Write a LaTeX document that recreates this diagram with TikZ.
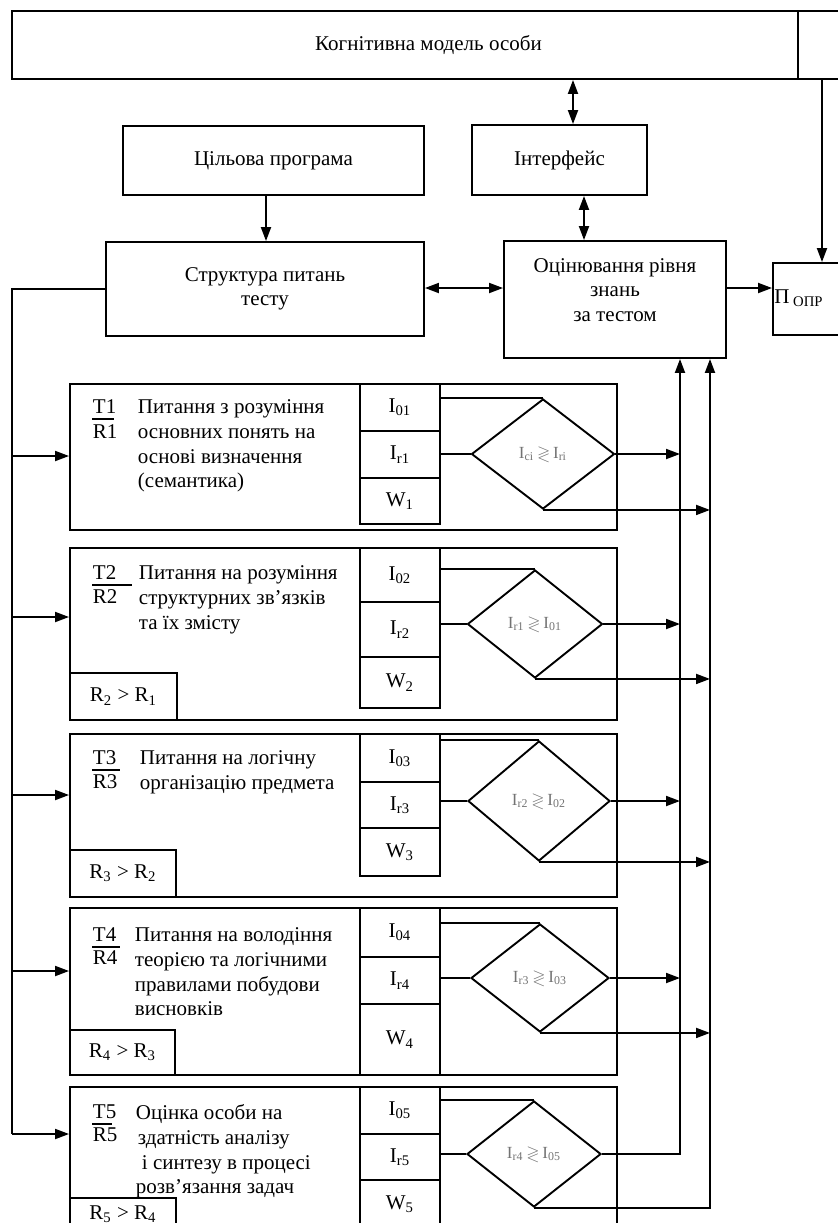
\documentclass[tikz,border=0pt]{standalone}
\usepackage{fontspec}
\setmainfont{Liberation Serif}
\usepackage{amssymb}
\usetikzlibrary{arrows.meta,shapes.geometric}
% box from corner (x1,y1) to (x2,y2), in pixel units
\newcommand\rectnode[7][]{\node[draw, align=center, minimum width={(#5-#3)*0.5pt}, minimum height={(#6-#4)*0.5pt}, #1] (#2) at ({(#3+#5)/2},{(#4+#6)/2}) {#7};}
\begin{document}
\begin{tikzpicture}[x=0.5pt,y=-0.5pt,line width=0.95pt,
  every node/.style={inner sep=0pt, font=\fontsize{10.5}{12.3}\selectfont},
  arr/.style={-{Triangle[length=7pt,width=5pt]}},
  darr/.style={{Triangle[length=7pt,width=5pt]}-{Triangle[length=7pt,width=5pt]}},
  txt/.style={anchor=north west, align=left},
  lab/.style={anchor=base west},
  dia/.style={draw, diamond, font=\fontsize{8.5}{9}\selectfont, text=black!55}]

\useasboundingbox (0,0) rectangle (837,1223);

% ---------- top part ----------
\rectnode{cog}{12}{11}{845}{79}{Когнітивна модель особи}
\rectnode{cil}{123}{126}{424}{195}{Цільова програма}
\rectnode{intf}{472}{125}{647}{195}{Інтерфейс}
\rectnode{str}{106}{242}{424}{336}{Структура питань\\тесту}
\rectnode{ocin}{504}{241}{726}{358}{}
\node[align=center] (ocint) at (615,290) {Оцінювання рівня\\знань\\за тестом};
\rectnode{popr}{773}{263}{850}{335}{}
\node (poprt) at (799,298) {П\textsubscript{ ОПР}};

\coordinate (xa) at (573,0);
\coordinate (xb) at (266,0);
\coordinate (xc) at (584,0);
\coordinate (ya) at (0,288);
\coordinate (xd) at (822,0);
\coordinate (xe) at (798,0);
\coordinate (xl) at (12,0);
\coordinate (xb1) at (680,0);
\coordinate (xb2) at (710,0);

\draw (cog.north -| xe) -- (cog.south -| xe);
\draw[darr] (cog.south -| xa) -- (intf.north -| xa);
\draw[arr] (cil.south -| xb) -- (str.north -| xb);
\draw[darr] (intf.south -| xc) -- (ocin.north -| xc);
\draw[darr] (str.east |- ya) -- (ocin.west |- ya);
\draw[arr] (ocin.east |- ya) -- (popr.west |- ya);
\draw[arr] (cog.south -| xd) -- (popr.north -| xd);

% ---------- T1 ----------
\rectnode{t1}{70}{384}{617}{530}{}
\rectnode{t1a}{360}{384}{440}{431}{I\textsubscript{01}}
\rectnode{t1b}{360}{431}{440}{478}{I\textsubscript{r1}}
\rectnode{t1c}{360}{478}{440}{524}{W\textsubscript{1}}
\node[dia, minimum width=71.5pt, minimum height=55pt] (d1) at (543,454) {I\textsubscript{ci}\,$\gtrless$\,I\textsubscript{ri}};
\node[lab] (t1T) at (92,413) {T1};
\node[lab] (t1R) at (92,438) {R1};
\draw[line width=0.6pt] (t1T.base west) ++(0,6) -- ++(22,0);
\node[txt] (t1x) at (137,399) {Питання з розуміння\\основних понять на\\основі визначення\\(семантика)};

% ---------- T2 ----------
\rectnode{t2}{70}{548}{617}{720}{}
\rectnode{t2a}{360}{548}{440}{602}{I\textsubscript{02}}
\rectnode{t2b}{360}{602}{440}{657}{I\textsubscript{r2}}
\rectnode{t2c}{360}{657}{440}{708}{W\textsubscript{2}}
\rectnode{r2}{70}{673}{177}{720}{R\textsubscript{2} > R\textsubscript{1}}
\node[dia, minimum width=67.5pt, minimum height=54pt] (d2) at (535,624) {I\textsubscript{r1}\,$\gtrless$\,I\textsubscript{01}};
\node[lab] (t2T) at (92,579) {T2};
\node[lab] (t2R) at (92,603) {R2};
\draw[line width=0.6pt] (t2T.base west) ++(0,6) -- ++(40,0);
\node[txt] (t2x) at (138,565) {Питання на розуміння\\структурних зв'язків\\та їх змісту};

% ---------- T3 ----------
\rectnode{t3}{70}{734}{617}{897}{}
\rectnode{t3a}{360}{734}{440}{782}{I\textsubscript{03}}
\rectnode{t3b}{360}{782}{440}{828}{I\textsubscript{r3}}
\rectnode{t3c}{360}{828}{440}{876}{W\textsubscript{3}}
\rectnode{r3}{70}{850}{176}{897}{R\textsubscript{3} > R\textsubscript{2}}
\node[dia, minimum width=71pt, minimum height=60pt] (d3) at (539,801) {I\textsubscript{r2}\,$\gtrless$\,I\textsubscript{02}};
\node[lab] (t3T) at (92,764) {T3};
\node[lab] (t3R) at (92,788) {R3};
\draw[line width=0.6pt] (t3T.base west) ++(0,6) -- ++(28,0);
\node[txt] (t3x) at (139,750) {Питання на логічну\\організацію предмета};

% ---------- T4 ----------
\rectnode{t4}{70}{908}{617}{1075}{}
\rectnode{t4a}{360}{908}{440}{957}{I\textsubscript{04}}
\rectnode{t4b}{360}{957}{440}{1004}{I\textsubscript{r4}}
\rectnode{t4c}{360}{1004}{440}{1075}{W\textsubscript{4}}
\rectnode{r4}{70}{1030}{175}{1075}{R\textsubscript{4} > R\textsubscript{3}}
\node[dia, minimum width=69pt, minimum height=54pt] (d4) at (540,978) {I\textsubscript{r3}\,$\gtrless$\,I\textsubscript{03}};
\node[lab] (t4T) at (92,941) {T4};
\node[lab] (t4R) at (92,964) {R4};
\draw[line width=0.6pt] (t4T.base west) ++(0,6) -- ++(28,0);
\node[txt] (t4x) at (134,927) {Питання на володіння\\теорією та логічними\\правилами побудови\\висновків};

% ---------- T5 ----------
\rectnode{t5}{70}{1087}{617}{1232}{}
\rectnode{t5a}{360}{1087}{440}{1134}{I\textsubscript{05}}
\rectnode{t5b}{360}{1134}{440}{1180}{I\textsubscript{r5}}
\rectnode{t5c}{360}{1180}{440}{1228}{W\textsubscript{5}}
\rectnode{r5}{70}{1198}{176}{1230}{R\textsubscript{5} > R\textsubscript{4}}
\node[dia, minimum width=67pt, minimum height=53pt] (d5) at (534,1154) {I\textsubscript{r4}\,$\gtrless$\,I\textsubscript{05}};
\node[lab] (t5T) at (92,1118) {T5};
\node[lab] (t5R) at (92,1141) {R5};
\draw[line width=0.6pt] (t5T.base west) ++(0,6) -- ++(20,0);
\node[txt] (t5x) at (135,1104) {Оцінка особи на\\\hspace{1pt}здатність аналізу\\\hspace{3pt}і синтезу в процесі\\розв'язання задач};

% ---------- left feed ----------
\coordinate (yf1) at (0,456);
\coordinate (yf2) at (0,617);
\coordinate (yf3) at (0,795);
\coordinate (yf4) at (0,971);
\coordinate (yf5) at (0,1134);
\draw (str.west) -- (str.west -| xl) -- (xl |- yf5);
\draw[arr] (xl |- yf1) -- (t1.west |- yf1);
\draw[arr] (xl |- yf2) -- (t2.west |- yf2);
\draw[arr] (xl |- yf3) -- (t3.west |- yf3);
\draw[arr] (xl |- yf4) -- (t4.west |- yf4);
\draw[arr] (xl |- yf5) -- (t5.west |- yf5);

% ---------- diamond inputs ----------
\foreach \i in {1,...,5}{
  \draw (t\i a.east |- d\i.north) -- (d\i.north);
  \draw (t\i b.east |- d\i.west) -- (d\i.west);
}

% ---------- outputs and buses ----------
\foreach \i in {1,...,4}{
  \draw[arr] (d\i.east) -- (d\i.east -| xb1);
  \draw[arr] (d\i.south) -- (d\i.south -| xb2);
}
\draw[arr] (d5.east) -- (d5.east -| xb1) -- (ocin.south -| xb1);
\draw[arr] (d5.south) -- (d5.south -| xb2) -- (ocin.south -| xb2);
\end{tikzpicture}
\end{document}
